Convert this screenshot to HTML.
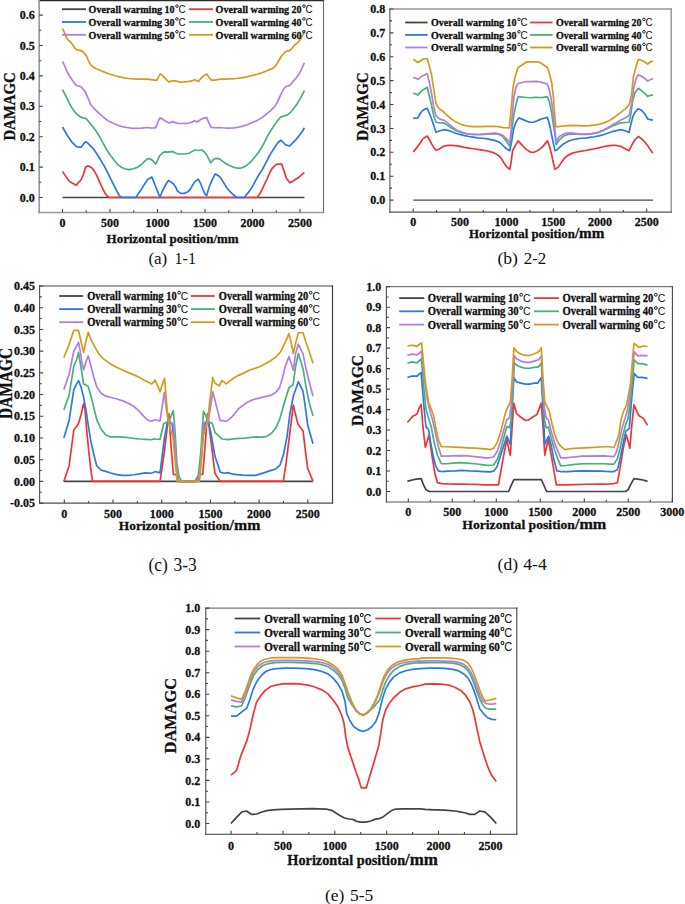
<!DOCTYPE html>
<html><head><meta charset="utf-8"><title>DAMAGC charts</title>
<style>html,body{margin:0;padding:0;background:#fff;}svg{display:block;}text{fill:#111;}text[font-weight=bold]{stroke:#111;stroke-width:0.3px;}</style></head>
<body><svg width="685" height="904" viewBox="0 0 685 904">
<rect width="685" height="904" fill="#fff"/>
<path d="M62.5,197.5 L304.38,197.5" fill="none" stroke="#444444" stroke-width="1.7" stroke-linejoin="round"/>
<path d="M62.5,171.57 L64.61,174.61 L66.96,178.14 L69.29,181.18 L71.64,182.82 L73.99,183.97 L76.33,185.16 L78.67,182.33 L81.02,179.99 L83.36,174.61 L85.7,166.89 L88.05,165.94 L90.39,166.89 L92.74,168.74 L95.08,172.27 L97.42,176.95 L99.77,182.33 L102.11,187.5 L104.45,192.18 L106.8,195.71 L109.15,197.5 L254.69,197.5 L257.03,197.5 L259.38,194.52 L261.72,190.33 L264.06,185.16 L266.87,179.29 L269.92,172.27 L272.27,168.29 L274.61,165.94 L276.95,164.06 L279.3,164.06 L281.64,164.06 L283.98,171.08 L286.33,178.14 L289.84,182.82 L292.19,181.63 L295.71,179.29 L299.22,176.95 L302.74,173.91 L304.38,172.72" fill="none" stroke="#ee3636" stroke-width="1.7" stroke-linejoin="round"/>
<path d="M62.5,127.03 L64.61,130.77 L66.96,134.75 L69.29,138.28 L71.64,141.81 L73.99,144.15 L76.33,146.49 L78.67,147.19 L81.02,147.19 L83.36,144.15 L85.7,141.56 L88.05,143.45 L90.39,145.79 L92.74,148.13 L95.08,151.17 L97.42,154.7 L100.94,160.53 L104.45,166.4 L107.97,173.42 L111.48,180.48 L115,187.5 L117.34,192.18 L119.69,195.95 L122.03,197.5 L126.72,197.5 L133.75,197.5 L136.1,197.5 L138.43,193.37 L140.78,190.33 L143.13,186.34 L145.47,182.82 L147.81,179.29 L150.16,178.14 L151.8,176.95 L153.67,181.63 L156.02,187.5 L158.36,193.37 L160,197.5 L161.88,192.18 L164.22,187.5 L166.56,183.27 L168.43,180.48 L171.25,182.33 L173.59,183.97 L175.94,187.5 L177.35,191.02 L180.86,193.37 L184.38,193.37 L187.89,191.72 L190.24,189.38 L192.57,185.16 L194.92,181.63 L198.44,179.29 L200.78,183.97 L203.13,189.84 L205,194.06 L206.64,195.71 L208.98,187.5 L211.33,181.63 L213.67,176.95 L215.32,173.91 L217.65,175.31 L220,176.95 L223.05,181.63 L226.56,187.5 L230.08,191.72 L233.59,195.01 L237.11,197.5 L240.62,197.5 L244.14,197.5 L247.66,193.37 L251.17,188.68 L254.69,182.33 L258.2,175.79 L261.72,170.63 L265.23,164.06 L268.75,157.04 L272.27,151.17 L275.78,145.79 L278.12,142.51 L280.93,140.17 L283.28,142.51 L285.63,144.85 L289.84,146 L292.19,143.45 L295.71,139.92 L299.22,135.45 L302.74,130.77 L304.38,127.73" fill="none" stroke="#2f78e4" stroke-width="1.7" stroke-linejoin="round"/>
<path d="M62.5,89.52 L64.61,93.74 L66.96,98.43 L69.29,103.14 L71.64,107.33 L73.99,110.86 L76.33,113.66 L78.67,115.54 L81.02,117.18 L83.36,117.88 L85.7,118.37 L88.05,120.71 L90.39,123.75 L92.74,126.58 L96.25,131.26 L99.77,137.1 L103.28,143.45 L106.8,150.02 L110.31,155.15 L113.83,159.83 L117.34,164.06 L120.86,166.89 L124.37,168.74 L129.07,169.68 L133.75,168.74 L137.26,167.34 L140.78,165 L144.3,161.72 L146.64,159.38 L148.99,158.68 L151.32,159.38 L153.67,161.72 L155.54,164.06 L157.19,161.26 L159.53,155.85 L161.88,153.51 L164.22,151.87 L167.73,152.11 L171.25,151.63 L173.59,151.87 L175.94,153.27 L178.29,154 L179.69,154 L184.38,154 L189.06,153.27 L192.57,151.17 L194.92,150.02 L198.44,150.47 L201.95,150.02 L204.3,151.87 L206.64,154.7 L208.98,159.38 L210.62,162.9 L212.5,160.53 L214.84,158.68 L218.36,158.44 L220.7,159.83 L224.22,162.42 L228.9,165.25 L233.59,167.34 L238.28,168.29 L241.79,167.8 L245.31,166.4 L248.82,163.6 L252.35,160.08 L255.86,155.85 L259.38,151.17 L262.89,145.3 L266.41,138.28 L269.92,131.96 L273.44,126.58 L276.95,121.41 L280.47,117.18 L283.98,116.03 L287.5,114.84 L289.84,112.96 L293.36,108.98 L296.87,104.29 L300.39,98.43 L304.38,90.7" fill="none" stroke="#47b276" stroke-width="1.7" stroke-linejoin="round"/>
<path d="M62.5,61.4 L64.61,65.62 L66.96,71.49 L69.29,75.47 L71.64,79.21 L73.99,82.5 L76.33,85.54 L78.67,86.02 L81.02,86.72 L83.36,89.52 L85.7,92.59 L86.88,95.63 L89.21,100.77 L90.39,104.29 L93.91,108.28 L98.59,112.96 L103.28,117.18 L107.97,120.71 L112.66,123.05 L117.34,124.94 L122.03,126.58 L126.72,127.49 L131.4,128.19 L136.1,128.43 L140.78,128.19 L145.47,127.73 L147.81,127.49 L150.16,127.98 L154.84,127.98 L156.48,126.58 L158.36,120.71 L160,117.88 L161.88,118.82 L165.39,120.92 L168.91,123.05 L172.42,121.65 L174.76,122.56 L178.29,123.51 L179.69,123.51 L184.38,123.51 L189.06,123.05 L192.57,121.86 L194.22,120.71 L197.27,121.86 L199.61,120.22 L203.13,118.37 L206.64,117.67 L208.98,123.05 L211.33,127.49 L214.84,127.73 L219.53,127.49 L224.22,127.98 L228.9,128.19 L233.59,127.98 L238.28,127.28 L242.97,126.09 L247.66,124.45 L252.35,122.56 L257.03,120.47 L261.72,117.88 L266.41,114.14 L271.09,110.16 L274.61,106.63 L276.95,103.14 L279.3,97.97 L281.64,92.59 L283.98,88.61 L286.33,86.24 L289.84,85.54 L292.19,82.5 L295.71,78.51 L299.22,73.83 L301.56,69.15 L304.38,62.8" fill="none" stroke="#b47ce6" stroke-width="1.7" stroke-linejoin="round"/>
<path d="M62.5,28.6 L64.61,32.82 L66.96,38.66 L69.29,41 L71.64,43.37 L73.99,46.87 L76.33,49.7 L79.85,50.39 L82.18,51.09 L84.53,53.43 L86.4,55.78 L88.05,59.76 L89.93,63.74 L92.74,66.81 L96.25,68.66 L100.94,70.79 L105.62,72.65 L110.31,74.29 L115,75.72 L119.69,76.87 L124.37,77.82 L129.07,78.51 L133.75,78.97 L138.43,79.21 L143.13,79.21 L147.81,79.21 L151.32,79.7 L154.84,80.16 L156.72,80.4 L158.36,77.33 L160.24,73.83 L161.88,74.99 L164.22,77.33 L166.56,79.7 L168.91,82.04 L171.25,81.1 L173.59,80.61 L175.94,81.1 L178.29,81.55 L179.69,82.04 L184.38,81.8 L189.06,81.34 L192.57,80.61 L194.92,79.7 L198.44,81.55 L200.78,78.51 L204.3,75.47 L206.64,74.08 L208.98,77.33 L211.33,80.16 L214.84,80.16 L219.53,79.21 L224.22,79.21 L228.9,78.97 L233.59,78.76 L238.28,78.27 L242.97,77.57 L247.66,76.63 L252.35,75.47 L257.03,74.29 L261.72,72.89 L266.41,71.01 L271.09,69.15 L274.61,67.02 L276.95,63.74 L279.3,59.76 L281.64,55.78 L285.16,52.04 L287.5,50.85 L289.84,50.64 L292.19,48.05 L294.53,45.23 L296.87,43.37 L299.22,41 L301.56,37.5 L303.44,33.28 L304.38,30.94" fill="none" stroke="#d39c1b" stroke-width="1.7" stroke-linejoin="round"/>
<path d="M39.2,0.6 H323.5" fill="none" stroke="#2a2a2a" stroke-width="1.4" stroke-linecap="square"/>
<path d="M323.5,0.6 V212.5" fill="none" stroke="#6a6a6a" stroke-width="1.1" stroke-linecap="square"/>
<path d="M39.2,0.6 V212.5" fill="none" stroke="#9a9a9a" stroke-width="1.7" stroke-linecap="square"/>
<path d="M39.2,212.5 H323.5" fill="none" stroke="#9a9a9a" stroke-width="1.7" stroke-linecap="square"/>
<path d="M39.2,197.5h3.6 M39.2,167.1h3.6 M39.2,136.7h3.6 M39.2,106.3h3.6 M39.2,75.9h3.6 M39.2,45.5h3.6 M39.2,15.1h3.6 M39.2,182.3h2.2 M39.2,151.9h2.2 M39.2,121.5h2.2 M39.2,91.1h2.2 M39.2,60.7h2.2 M39.2,30.3h2.2 M62.5,212.5v-3.6 M110,212.5v-3.6 M157.5,212.5v-3.6 M205,212.5v-3.6 M252.5,212.5v-3.6 M300,212.5v-3.6 M86.25,212.5v-2.2 M133.75,212.5v-2.2 M181.25,212.5v-2.2 M228.75,212.5v-2.2 M276.25,212.5v-2.2" stroke="#444" stroke-width="1.1" fill="none"/>
<text x="34.7" y="201.6" text-anchor="end" font-family="'Liberation Serif', serif" font-weight="bold" font-size="12.7" textLength="15" lengthAdjust="spacingAndGlyphs">0.0</text>
<text x="34.7" y="171.2" text-anchor="end" font-family="'Liberation Serif', serif" font-weight="bold" font-size="12.7" textLength="15" lengthAdjust="spacingAndGlyphs">0.1</text>
<text x="34.7" y="140.8" text-anchor="end" font-family="'Liberation Serif', serif" font-weight="bold" font-size="12.7" textLength="15" lengthAdjust="spacingAndGlyphs">0.2</text>
<text x="34.7" y="110.4" text-anchor="end" font-family="'Liberation Serif', serif" font-weight="bold" font-size="12.7" textLength="15" lengthAdjust="spacingAndGlyphs">0.3</text>
<text x="34.7" y="80" text-anchor="end" font-family="'Liberation Serif', serif" font-weight="bold" font-size="12.7" textLength="15" lengthAdjust="spacingAndGlyphs">0.4</text>
<text x="34.7" y="49.6" text-anchor="end" font-family="'Liberation Serif', serif" font-weight="bold" font-size="12.7" textLength="15" lengthAdjust="spacingAndGlyphs">0.5</text>
<text x="34.7" y="19.2" text-anchor="end" font-family="'Liberation Serif', serif" font-weight="bold" font-size="12.7" textLength="15" lengthAdjust="spacingAndGlyphs">0.6</text>
<text x="62.5" y="226.8" text-anchor="middle" font-family="'Liberation Serif', serif" font-weight="bold" font-size="12.7" textLength="6" lengthAdjust="spacingAndGlyphs">0</text>
<text x="110" y="226.8" text-anchor="middle" font-family="'Liberation Serif', serif" font-weight="bold" font-size="12.7" textLength="18" lengthAdjust="spacingAndGlyphs">500</text>
<text x="157.5" y="226.8" text-anchor="middle" font-family="'Liberation Serif', serif" font-weight="bold" font-size="12.7" textLength="24" lengthAdjust="spacingAndGlyphs">1000</text>
<text x="205" y="226.8" text-anchor="middle" font-family="'Liberation Serif', serif" font-weight="bold" font-size="12.7" textLength="24" lengthAdjust="spacingAndGlyphs">1500</text>
<text x="252.5" y="226.8" text-anchor="middle" font-family="'Liberation Serif', serif" font-weight="bold" font-size="12.7" textLength="24" lengthAdjust="spacingAndGlyphs">2000</text>
<text x="300" y="226.8" text-anchor="middle" font-family="'Liberation Serif', serif" font-weight="bold" font-size="12.7" textLength="24" lengthAdjust="spacingAndGlyphs">2500</text>
<text transform="translate(14.8,106.4) rotate(-90)" x="0" y="0" text-anchor="middle" font-family="'Liberation Serif', serif" font-weight="bold" font-size="17.5" textLength="68.4" lengthAdjust="spacingAndGlyphs">DAMAGC</text>
<text x="106.6" y="242.6" font-family="'Liberation Serif', serif" font-weight="bold" font-size="13.1" textLength="132.0" lengthAdjust="spacingAndGlyphs">Horizontal position/mm</text>
<text x="148.4" y="263.8" font-family="'Liberation Serif', serif" font-size="17" textLength="18.87" lengthAdjust="spacingAndGlyphs">(a)</text>
<text x="174.5" y="263.8" font-family="'Liberation Serif', serif" font-size="17" textLength="21.53" lengthAdjust="spacingAndGlyphs">1-1</text>
<path d="M62,9.2 h24.0" stroke="#444444" stroke-width="1.8"/>
<text x="88.6" y="12.9" font-family="'Liberation Serif', serif" font-weight="bold" font-size="11" textLength="86.0" lengthAdjust="spacingAndGlyphs">Overall warming 10</text>
<circle cx="176.95" cy="6.1" r="1.3" fill="none" stroke="#111" stroke-width="0.9"/>
<text x="178.6" y="12.9" font-family="'Liberation Sans', sans-serif" font-size="10.7" textLength="7.11" lengthAdjust="spacingAndGlyphs">C</text>
<path d="M189,9.2 h24.0" stroke="#ee3636" stroke-width="1.8"/>
<text x="215.6" y="12.9" font-family="'Liberation Serif', serif" font-weight="bold" font-size="11" textLength="86.0" lengthAdjust="spacingAndGlyphs">Overall warming 20</text>
<circle cx="303.95" cy="6.1" r="1.3" fill="none" stroke="#111" stroke-width="0.9"/>
<text x="305.6" y="12.9" font-family="'Liberation Sans', sans-serif" font-size="10.7" textLength="7.11" lengthAdjust="spacingAndGlyphs">C</text>
<path d="M62,22 h24.0" stroke="#2f78e4" stroke-width="1.8"/>
<text x="88.6" y="25.7" font-family="'Liberation Serif', serif" font-weight="bold" font-size="11" textLength="86.0" lengthAdjust="spacingAndGlyphs">Overall warming 30</text>
<circle cx="176.95" cy="18.9" r="1.3" fill="none" stroke="#111" stroke-width="0.9"/>
<text x="178.6" y="25.7" font-family="'Liberation Sans', sans-serif" font-size="10.7" textLength="7.11" lengthAdjust="spacingAndGlyphs">C</text>
<path d="M189,22 h24.0" stroke="#47b276" stroke-width="1.8"/>
<text x="215.6" y="25.7" font-family="'Liberation Serif', serif" font-weight="bold" font-size="11" textLength="86.0" lengthAdjust="spacingAndGlyphs">Overall warming 40</text>
<circle cx="303.95" cy="18.9" r="1.3" fill="none" stroke="#111" stroke-width="0.9"/>
<text x="305.6" y="25.7" font-family="'Liberation Sans', sans-serif" font-size="10.7" textLength="7.11" lengthAdjust="spacingAndGlyphs">C</text>
<path d="M62,34.8 h24.0" stroke="#b47ce6" stroke-width="1.8"/>
<text x="88.6" y="38.5" font-family="'Liberation Serif', serif" font-weight="bold" font-size="11" textLength="86.0" lengthAdjust="spacingAndGlyphs">Overall warming 50</text>
<circle cx="176.95" cy="31.7" r="1.3" fill="none" stroke="#111" stroke-width="0.9"/>
<text x="178.6" y="38.5" font-family="'Liberation Sans', sans-serif" font-size="10.7" textLength="7.11" lengthAdjust="spacingAndGlyphs">C</text>
<path d="M189,34.8 h24.0" stroke="#d39c1b" stroke-width="1.8"/>
<text x="215.6" y="38.5" font-family="'Liberation Serif', serif" font-weight="bold" font-size="11" textLength="86.0" lengthAdjust="spacingAndGlyphs">Overall warming 60</text>
<circle cx="303.95" cy="31.7" r="1.3" fill="none" stroke="#111" stroke-width="0.9"/>
<text x="305.6" y="38.5" font-family="'Liberation Sans', sans-serif" font-size="10.7" textLength="7.11" lengthAdjust="spacingAndGlyphs">C</text>
<path d="M413.21,200.1 L652.92,200.1" fill="none" stroke="#4a4a4a" stroke-width="1.25" stroke-linejoin="round"/>
<path d="M413.21,152.03 L415.18,149.64 L417.81,146.35 L420.21,143.07 L422.85,138.89 L425.03,137.36 L427.23,136.05 L429.41,139.78 L432.05,144.6 L433.79,147.45 L435.99,150.29 L439.27,148.98 L443.65,146.35 L446.94,145.46 L451.32,145.46 L455.7,145.7 L460.08,146.35 L464.45,147.45 L468.83,148.09 L473.21,148.76 L477.59,149.41 L481.97,150.07 L486.35,150.72 L490.73,151.82 L495.11,153.35 L499.49,156.21 L501.68,159.06 L503.87,162.78 L506.06,166.06 L509.78,169.35 L510.88,163.86 L512.62,150.72 L514.82,146.35 L518.1,140.88 L523.28,146.35 L526.57,149.64 L529.86,151.82 L533.13,152.49 L536.42,151.17 L539.71,149.19 L542.99,146.35 L547.37,140.88 L549.56,146.35 L551.75,155.12 L553.28,162.78 L555.04,169.35 L558.32,167.16 L561.6,162.11 L564.89,157.74 L568.18,155.12 L572.56,153.13 L576.93,152.03 L581.31,151.17 L585.69,150.5 L590.07,149.64 L594.45,148.76 L598.83,147.88 L603.21,146.78 L607.59,145.92 L611.97,145.46 L616.35,145.46 L620.73,146.35 L624.67,148.55 L629.05,150.72 L631.68,145.25 L634.96,139.78 L638.25,136.5 L641.53,138.68 L644.81,141.98 L648.1,146.35 L650.3,149.64 L652.92,153.35" fill="none" stroke="#ee3636" stroke-width="1.7" stroke-linejoin="round"/>
<path d="M413.21,118.32 L415.18,118.11 L417.81,117.89 L420.21,113.5 L422.85,110.23 L425.03,109.13 L427.23,108.24 L429.41,113.5 L431.61,118.97 L433.79,125.54 L435.99,132.32 L439.27,131.01 L443.65,129.7 L446.94,130.15 L451.32,131.46 L455.7,133.21 L460.08,134.52 L464.45,135.62 L468.83,136.5 L473.21,137.15 L477.59,137.82 L481.97,138.25 L486.35,138.68 L490.73,139.56 L495.11,140.66 L499.49,142.19 L502.77,145.25 L506.06,148.55 L509.78,150.72 L511.53,141.98 L513.73,128.84 L515.91,122.27 L518.76,117.89 L523.28,119.64 L526.57,121.17 L529.86,122.27 L533.13,122.27 L536.42,121.17 L539.71,119.64 L542.99,118.54 L547.37,117.44 L549.56,124.46 L551.75,135.41 L553.28,143.07 L555.04,150.72 L557.22,149.64 L560.51,146.35 L563.8,143.72 L568.18,141.31 L572.56,139.78 L576.93,138.89 L581.31,138.25 L585.69,138.03 L590.07,137.36 L594.45,136.72 L598.83,135.84 L603.21,134.74 L607.59,133.21 L611.97,131.68 L616.35,130.58 L620.73,129.7 L624.67,130.58 L629.05,132.56 L630.59,125.54 L632.77,116.8 L634.96,112.4 L638.25,108.7 L641.53,110.23 L644.81,113.95 L647.66,118.97 L650.3,119.64 L652.92,120.07" fill="none" stroke="#2f78e4" stroke-width="1.7" stroke-linejoin="round"/>
<path d="M413.21,93.36 L415.18,93.79 L417.81,95.1 L420.21,92.26 L422.85,89.85 L425.03,88.75 L427.23,87.22 L429.41,95.99 L431.61,105.83 L433.79,115.7 L435.99,122.27 L439.27,122.7 L443.65,122.91 L446.94,124.89 L451.32,127.74 L455.7,130.58 L460.08,132.32 L464.45,133.42 L468.83,134.09 L473.21,134.31 L477.59,134.52 L481.97,134.31 L486.35,134.09 L490.73,133.88 L495.11,133.64 L499.49,134.52 L502.77,136.5 L506.06,140.88 L508.24,144.15 L509.78,146.35 L511.53,133.21 L513.73,115.7 L515.91,104.76 L518.1,96.63 L526.57,97.52 L530.95,97.73 L535.33,97.3 L539.71,97.52 L542.99,97.3 L547.37,96.63 L549.56,102.56 L551.75,113.5 L553.28,124.46 L555.04,135.41 L556.13,144.6 L559.42,139.78 L563.8,135.84 L568.18,134.52 L572.56,134.09 L576.93,134.09 L581.31,134.31 L585.69,134.31 L590.07,134.09 L594.45,133.42 L598.83,132.32 L603.21,130.58 L607.59,128.38 L611.97,126.21 L616.35,124.46 L620.73,122.91 L625.11,122.48 L629.05,122.27 L630.59,115.7 L632.77,100.36 L634.96,92.69 L638.25,88.32 L641.53,90.52 L644.81,93.36 L647.66,96.42 L650.3,95.32 L652.92,94.89" fill="none" stroke="#47b276" stroke-width="1.7" stroke-linejoin="round"/>
<path d="M413.21,77.38 L415.18,78.02 L417.81,79.34 L420.21,77.38 L422.85,75.85 L425.03,74.75 L427.23,73.65 L429.41,82.85 L431.61,93.79 L433.79,106.93 L435.99,115.7 L438.18,117.89 L441.46,119.64 L444.74,120.52 L448.03,123.37 L452.41,127.09 L456.79,129.94 L461.17,131.68 L465.55,133.21 L469.93,134.09 L474.3,134.52 L478.68,134.52 L483.06,134.31 L487.44,133.88 L491.82,133.42 L496.2,133.21 L499.49,134.09 L502.77,135.41 L506.06,138.25 L508.24,140.88 L509.78,143.07 L510.88,133.21 L512.19,115.7 L513.73,98.19 L515.91,87.22 L518.1,83.49 L526.57,81.53 L530.95,81.53 L535.33,81.32 L539.71,81.75 L542.99,82.85 L547.37,83.95 L549.56,90.52 L551.75,102.56 L553.28,115.7 L555.04,131.01 L556.13,141.52 L559.42,136.5 L563.8,133.88 L568.18,132.78 L572.56,133.21 L576.93,133.64 L581.31,134.09 L585.69,134.09 L590.07,133.88 L594.45,133.21 L598.83,132.11 L603.21,130.15 L607.59,127.74 L611.97,125.11 L616.35,122.7 L620.73,120.07 L624.01,118.54 L627.3,116.8 L629.49,114.6 L631.68,102.56 L633.87,87.22 L636.06,78.48 L638.25,74.75 L641.53,76.28 L644.81,78.48 L647.66,81.1 L650.3,79.79 L652.92,78.48" fill="none" stroke="#b47ce6" stroke-width="1.7" stroke-linejoin="round"/>
<path d="M413.21,59.2 L415.18,60.51 L417.81,62.49 L420.21,60.94 L422.85,59.2 L425.03,58.77 L427.23,58.77 L429.41,66.41 L431.61,75.18 L433.79,89.42 L435.99,103.66 L438.18,107.38 L440.36,109.56 L443.65,111.97 L446.94,115.27 L451.32,118.97 L455.7,121.84 L460.08,124.01 L464.45,125.32 L468.83,126.21 L473.21,126.64 L477.59,126.64 L481.97,126.64 L486.35,126.42 L490.73,126.42 L495.11,126.42 L498.39,126.64 L501.68,127.31 L504.97,127.74 L509.35,127.95 L510,120.07 L511.53,104.76 L513.06,87.22 L515.26,76.28 L518.1,67.51 L526.57,62.04 L530.95,61.82 L535.33,61.82 L539.71,62.25 L542.99,64.45 L547.37,67.51 L549.56,74.08 L551.75,82.85 L553.28,95.99 L554.6,113.5 L555.69,126.64 L558.32,126.64 L562.71,125.99 L567.08,125.54 L572.56,125.32 L578.03,125.54 L583.51,125.78 L588.98,125.54 L594.45,125.11 L598.83,124.46 L603.21,123.15 L607.59,121.38 L611.97,118.97 L616.35,115.7 L620.73,112.4 L625.11,109.13 L628.39,105.83 L629.49,103.66 L631.68,93.79 L633.43,76.28 L636.06,66.41 L638.25,59.41 L641.53,60.3 L644.81,62.04 L647.66,64.02 L650.3,62.04 L652.92,60.94" fill="none" stroke="#d39c1b" stroke-width="1.7" stroke-linejoin="round"/>
<path d="M389.9,9 H671.2" fill="none" stroke="#999" stroke-width="1.5" stroke-linecap="square"/>
<path d="M671.2,9 V212.1" fill="none" stroke="#999" stroke-width="1.5" stroke-linecap="square"/>
<path d="M389.9,9 V212.1" fill="none" stroke="#555" stroke-width="1.1" stroke-linecap="square"/>
<path d="M389.9,212.1 H671.2" fill="none" stroke="#555" stroke-width="1.2" stroke-linecap="square"/>
<path d="M389.9,200.1h3.6 M389.9,176.21h3.6 M389.9,152.32h3.6 M389.9,128.43h3.6 M389.9,104.54h3.6 M389.9,80.65h3.6 M389.9,56.76h3.6 M389.9,32.87h3.6 M389.9,8.98h3.6 M389.9,188.16h2.2 M389.9,164.26h2.2 M389.9,140.38h2.2 M389.9,116.48h2.2 M389.9,92.59h2.2 M389.9,68.7h2.2 M389.9,44.81h2.2 M389.9,20.92h2.2 M413.2,212.1v-3.6 M459.9,212.1v-3.6 M506.6,212.1v-3.6 M553.3,212.1v-3.6 M600,212.1v-3.6 M646.7,212.1v-3.6 M436.55,212.1v-2.2 M483.25,212.1v-2.2 M529.95,212.1v-2.2 M576.65,212.1v-2.2 M623.35,212.1v-2.2" stroke="#444" stroke-width="1.1" fill="none"/>
<text x="385.3" y="204.2" text-anchor="end" font-family="'Liberation Serif', serif" font-weight="bold" font-size="12.7" textLength="15" lengthAdjust="spacingAndGlyphs">0.0</text>
<text x="385.3" y="180.31" text-anchor="end" font-family="'Liberation Serif', serif" font-weight="bold" font-size="12.7" textLength="15" lengthAdjust="spacingAndGlyphs">0.1</text>
<text x="385.3" y="156.42" text-anchor="end" font-family="'Liberation Serif', serif" font-weight="bold" font-size="12.7" textLength="15" lengthAdjust="spacingAndGlyphs">0.2</text>
<text x="385.3" y="132.53" text-anchor="end" font-family="'Liberation Serif', serif" font-weight="bold" font-size="12.7" textLength="15" lengthAdjust="spacingAndGlyphs">0.3</text>
<text x="385.3" y="108.64" text-anchor="end" font-family="'Liberation Serif', serif" font-weight="bold" font-size="12.7" textLength="15" lengthAdjust="spacingAndGlyphs">0.4</text>
<text x="385.3" y="84.75" text-anchor="end" font-family="'Liberation Serif', serif" font-weight="bold" font-size="12.7" textLength="15" lengthAdjust="spacingAndGlyphs">0.5</text>
<text x="385.3" y="60.86" text-anchor="end" font-family="'Liberation Serif', serif" font-weight="bold" font-size="12.7" textLength="15" lengthAdjust="spacingAndGlyphs">0.6</text>
<text x="385.3" y="36.97" text-anchor="end" font-family="'Liberation Serif', serif" font-weight="bold" font-size="12.7" textLength="15" lengthAdjust="spacingAndGlyphs">0.7</text>
<text x="385.3" y="13.08" text-anchor="end" font-family="'Liberation Serif', serif" font-weight="bold" font-size="12.7" textLength="15" lengthAdjust="spacingAndGlyphs">0.8</text>
<text x="413.2" y="225.7" text-anchor="middle" font-family="'Liberation Serif', serif" font-weight="bold" font-size="12.7" textLength="6" lengthAdjust="spacingAndGlyphs">0</text>
<text x="459.9" y="225.7" text-anchor="middle" font-family="'Liberation Serif', serif" font-weight="bold" font-size="12.7" textLength="18" lengthAdjust="spacingAndGlyphs">500</text>
<text x="506.6" y="225.7" text-anchor="middle" font-family="'Liberation Serif', serif" font-weight="bold" font-size="12.7" textLength="24" lengthAdjust="spacingAndGlyphs">1000</text>
<text x="553.3" y="225.7" text-anchor="middle" font-family="'Liberation Serif', serif" font-weight="bold" font-size="12.7" textLength="24" lengthAdjust="spacingAndGlyphs">1500</text>
<text x="600" y="225.7" text-anchor="middle" font-family="'Liberation Serif', serif" font-weight="bold" font-size="12.7" textLength="24" lengthAdjust="spacingAndGlyphs">2000</text>
<text x="646.7" y="225.7" text-anchor="middle" font-family="'Liberation Serif', serif" font-weight="bold" font-size="12.7" textLength="24" lengthAdjust="spacingAndGlyphs">2500</text>
<text transform="translate(367.9,106.6) rotate(-90)" x="0" y="0" text-anchor="middle" font-family="'Liberation Serif', serif" font-weight="bold" font-size="16.2" textLength="68.5" lengthAdjust="spacingAndGlyphs">DAMAGC</text>
<text x="469.1" y="238.1" font-family="'Liberation Serif', serif" font-weight="bold" font-size="13.3" textLength="105.8" lengthAdjust="spacingAndGlyphs">Horizontal position</text>
<text x="574.9" y="238.1" font-family="'Liberation Serif', serif" font-weight="bold" font-size="14.8" textLength="29.6" lengthAdjust="spacingAndGlyphs">/mm</text>
<text x="497.4" y="263.9" font-family="'Liberation Serif', serif" font-size="17" textLength="20.61" lengthAdjust="spacingAndGlyphs">(b)</text>
<text x="523.7" y="263.9" font-family="'Liberation Serif', serif" font-size="17" textLength="22.66" lengthAdjust="spacingAndGlyphs">2-2</text>
<path d="M405.1,22.5 h22.5" stroke="#444444" stroke-width="1.8"/>
<text x="431.1" y="26.2" font-family="'Liberation Serif', serif" font-weight="bold" font-size="11" textLength="85.5" lengthAdjust="spacingAndGlyphs">Overall warming 10</text>
<circle cx="518.95" cy="19.4" r="1.3" fill="none" stroke="#111" stroke-width="0.9"/>
<text x="520.6" y="26.2" font-family="'Liberation Sans', sans-serif" font-size="10.7" textLength="7.11" lengthAdjust="spacingAndGlyphs">C</text>
<path d="M530.1,22.5 h22.5" stroke="#ee3636" stroke-width="1.8"/>
<text x="556.1" y="26.2" font-family="'Liberation Serif', serif" font-weight="bold" font-size="11" textLength="85.5" lengthAdjust="spacingAndGlyphs">Overall warming 20</text>
<circle cx="643.95" cy="19.4" r="1.3" fill="none" stroke="#111" stroke-width="0.9"/>
<text x="645.6" y="26.2" font-family="'Liberation Sans', sans-serif" font-size="10.7" textLength="7.11" lengthAdjust="spacingAndGlyphs">C</text>
<path d="M405.1,34.9 h22.5" stroke="#2f78e4" stroke-width="1.8"/>
<text x="431.1" y="38.6" font-family="'Liberation Serif', serif" font-weight="bold" font-size="11" textLength="85.5" lengthAdjust="spacingAndGlyphs">Overall warming 30</text>
<circle cx="518.95" cy="31.8" r="1.3" fill="none" stroke="#111" stroke-width="0.9"/>
<text x="520.6" y="38.6" font-family="'Liberation Sans', sans-serif" font-size="10.7" textLength="7.11" lengthAdjust="spacingAndGlyphs">C</text>
<path d="M530.1,34.9 h22.5" stroke="#47b276" stroke-width="1.8"/>
<text x="556.1" y="38.6" font-family="'Liberation Serif', serif" font-weight="bold" font-size="11" textLength="85.5" lengthAdjust="spacingAndGlyphs">Overall warming 40</text>
<circle cx="643.95" cy="31.8" r="1.3" fill="none" stroke="#111" stroke-width="0.9"/>
<text x="645.6" y="38.6" font-family="'Liberation Sans', sans-serif" font-size="10.7" textLength="7.11" lengthAdjust="spacingAndGlyphs">C</text>
<path d="M405.1,47.5 h22.5" stroke="#b47ce6" stroke-width="1.8"/>
<text x="431.1" y="51.2" font-family="'Liberation Serif', serif" font-weight="bold" font-size="11" textLength="85.5" lengthAdjust="spacingAndGlyphs">Overall warming 50</text>
<circle cx="518.95" cy="44.4" r="1.3" fill="none" stroke="#111" stroke-width="0.9"/>
<text x="520.6" y="51.2" font-family="'Liberation Sans', sans-serif" font-size="10.7" textLength="7.11" lengthAdjust="spacingAndGlyphs">C</text>
<path d="M530.1,47.5 h22.5" stroke="#d39c1b" stroke-width="1.8"/>
<text x="556.1" y="51.2" font-family="'Liberation Serif', serif" font-weight="bold" font-size="11" textLength="85.5" lengthAdjust="spacingAndGlyphs">Overall warming 60</text>
<circle cx="643.95" cy="44.4" r="1.3" fill="none" stroke="#111" stroke-width="0.9"/>
<text x="645.6" y="51.2" font-family="'Liberation Sans', sans-serif" font-size="10.7" textLength="7.11" lengthAdjust="spacingAndGlyphs">C</text>
<path d="M63.84,481.4 L313,481.4" fill="none" stroke="#444444" stroke-width="1.7" stroke-linejoin="round"/>
<path d="M63.84,481.4 L69.1,465.73 L73.81,429.99 L76.62,426.26 L78.5,423.43 L80.95,414.97 L83.59,403.68 L85.09,410.28 L86.96,432.81 L88.84,451.61 L90.72,468.55 L92.6,481.4 L154.66,481.4 L155,481.4 L160.04,481.4 L164.29,452.31 L166.95,429.73 L168.94,413.8 L170.93,444.32 L173.32,474.19 L176.24,474.89 L177.83,481.4 L194.83,481.4 L198.81,474.89 L202.78,474.19 L205.18,444.32 L207.43,413.8 L211.41,444.32 L215,473.54 L220.22,481.4 L255,481.4 L283.29,481.4 L286.11,462.9 L288.93,440.32 L293.26,404.98 L297.95,424.35 L303.04,430.95 L305.48,451.61 L307.73,468.55 L313,481.4" fill="none" stroke="#ee3636" stroke-width="1.7" stroke-linejoin="round"/>
<path d="M63.84,438.07 L69.1,420.61 L73.81,389.57 L76.62,383.92 L78.5,380.54 L80.95,386.74 L83.59,397.08 L86.03,410.28 L88.28,425.3 L90.72,440.32 L93.55,453.52 L96.74,465.73 L101.07,470.07 L105.77,471.37 L111.41,473.24 L117.05,474.58 L122.69,475.32 L128.33,475.32 L133.97,474.76 L139.62,473.8 L145.26,472.89 L150.9,473.24 L154.66,471.93 L155,471.54 L160.04,472.89 L164.29,439.02 L167.61,421.78 L169.6,421.09 L172.26,424.43 L174.64,447.01 L176.9,474.89 L178.89,481.4 L196.81,481.4 L199.47,473.54 L201.46,456.3 L203.46,433.72 L205.44,422.44 L208.1,421.09 L210.75,432.38 L215,456.3 L220.22,471.93 L223.98,473.24 L227.74,472.67 L231.5,473.8 L237.14,474.58 L242.78,475.15 L248.42,475.32 L255,475.32 L257.9,474.58 L264.49,472.67 L271.07,470.41 L275.77,468.94 L279.9,465.16 L283.29,455.39 L287.05,436.59 L289.87,414.01 L293.07,397.08 L298.33,381.66 L303.04,391.43 L305.48,408.37 L307.73,425.3 L313,443.71" fill="none" stroke="#2f78e4" stroke-width="1.7" stroke-linejoin="round"/>
<path d="M63.84,409.89 L69.1,395.21 L73.81,366.08 L76.62,359.48 L78.5,352.36 L80.95,366.99 L83.59,383.92 L86.03,384.88 L88.28,386.74 L90.72,395.21 L93.55,406.5 L96.74,419.66 L101.07,429.08 L105.77,435.07 L110.47,436.94 L117.05,436.94 L122.69,437.16 L128.33,437.72 L133.97,438.46 L139.62,439.02 L145.26,439.41 L150.9,439.76 L154.66,438.85 L155,439.02 L160.04,439.28 L163.63,423.78 L166.29,422.44 L168.94,421.09 L170.93,416.44 L173.32,410.5 L174.91,429.73 L176.9,462.9 L178.89,476.19 L181.55,481.4 L194.83,481.4 L198.14,477.54 L200.8,452.31 L203.46,411.15 L206.1,416.44 L209.43,422.44 L212.08,423.09 L215,432.38 L222.1,439.02 L227.74,439.59 L233.38,438.85 L239.02,438.46 L244.66,438.07 L250.3,437.5 L255,436.94 L260.73,437.16 L266.37,436.59 L271.07,433.77 L275.77,428.12 L279.53,419.66 L283.29,406.5 L286.11,397.08 L288.93,387.7 L293.07,384.88 L295.51,366.99 L298.33,353.48 L303.04,368.9 L305.85,385.83 L309.24,402.72 L313,415.88" fill="none" stroke="#47b276" stroke-width="1.7" stroke-linejoin="round"/>
<path d="M63.84,389.57 L69.1,374.54 L73.81,351.01 L76.62,346.32 L78.5,342.2 L80.38,351.96 L81.71,361.39 L83.59,369.81 L86.03,361.39 L88.28,355.74 L90.72,365.12 L93.55,376.41 L96.74,386.74 L101.07,393.34 L105.77,396.17 L111.41,397.47 L117.05,398.99 L122.69,400.86 L128.33,403.29 L133.97,406.5 L138.67,410.63 L143.38,415.88 L147.14,419.66 L150.9,421.18 L154.66,420.05 L155,419.79 L160.04,420.83 L164.29,392.3 L166.29,408.5 L168.27,421.09 L170.26,422.44 L172.26,423.09 L173.58,425.74 L175.58,452.31 L177.57,478.84 L179.55,481.4 L197.48,481.4 L200.13,473.54 L202.12,444.32 L203.84,422.44 L206.1,422.04 L208.1,422.44 L210.49,407.15 L212.75,391.91 L215,400.55 L220.22,420.61 L223.03,420.61 L225.86,421.52 L228.67,419.66 L231.5,417.4 L235.26,413.06 L239.02,408.37 L242.78,405.55 L246.54,402.72 L250.3,400.86 L255,398.99 L256.97,398.6 L262.61,397.08 L267.31,396.17 L272.01,394.82 L275.77,392.39 L279.53,387.7 L282.35,378.28 L285.17,366.99 L288.93,356.65 L291.18,363.25 L293.26,370.38 L295.51,353.83 L298.33,344.06 L303.04,353.83 L305.85,367.94 L309.24,382.06 L313,396.17" fill="none" stroke="#b47ce6" stroke-width="1.7" stroke-linejoin="round"/>
<path d="M63.84,357.61 L69.1,344.45 L73.81,330.34 L78.5,330.34 L80.95,340.68 L83.59,352.36 L86.03,340.68 L88.28,332.21 L90.72,338.81 L94.48,346.32 L98.24,352.92 L102.01,357.61 L106.71,361.39 L111.41,364.56 L117.05,367.55 L122.69,370.03 L128.33,372.63 L133.97,374.89 L139.62,377.54 L144.31,380.19 L149.02,382.45 L151.83,383.92 L154.66,381.1 L155,379.97 L157.66,385.92 L160.04,391.91 L162.3,384.62 L164.55,378.23 L166.29,399.21 L168.27,421.78 L170.66,429.73 L172.92,436.37 L174.91,457.61 L177.3,481.4 L181.55,481.4 L188.18,481.4 L194.83,481.4 L199.47,481.4 L201.46,460.25 L203.06,436.37 L205.44,429.08 L207.43,421.78 L210.09,399.21 L212.75,377.71 L215,383.27 L219.27,385.83 L221.72,380.54 L223.98,382.06 L226.23,383.92 L229.62,381.1 L233.38,378.28 L239.02,375.11 L244.66,372.63 L250.3,369.81 L255,368.33 L258.85,366.99 L264.49,364.21 L270.13,361 L275.77,357.22 L280.47,351.96 L284.79,343.5 L288.93,333.55 L291.18,342.54 L293.26,353.48 L296.07,341.63 L298.33,332.77 L303.04,332.77 L305.48,340.68 L308.68,350.1 L313,363.25" fill="none" stroke="#d39c1b" stroke-width="1.7" stroke-linejoin="round"/>
<path d="M39.6,286 H332.5" fill="none" stroke="#444" stroke-width="1.2" stroke-linecap="square"/>
<path d="M332.5,286 V503.1" fill="none" stroke="#444" stroke-width="1.2" stroke-linecap="square"/>
<path d="M39.6,286 V503.1" fill="none" stroke="#505050" stroke-width="1.1" stroke-linecap="square"/>
<path d="M39.6,503.1 H332.5" fill="none" stroke="#505050" stroke-width="1.2" stroke-linecap="square"/>
<path d="M39.6,503.11h3.6 M39.6,481.4h3.6 M39.6,459.69h3.6 M39.6,437.98h3.6 M39.6,416.27h3.6 M39.6,394.56h3.6 M39.6,372.85h3.6 M39.6,351.14h3.6 M39.6,329.43h3.6 M39.6,307.72h3.6 M39.6,286.01h3.6 M39.6,492.25h2.2 M39.6,470.54h2.2 M39.6,448.83h2.2 M39.6,427.12h2.2 M39.6,405.41h2.2 M39.6,383.7h2.2 M39.6,362h2.2 M39.6,340.28h2.2 M39.6,318.57h2.2 M39.6,296.87h2.2 M64.3,503.1v-3.6 M113,503.1v-3.6 M161.7,503.1v-3.6 M210.4,503.1v-3.6 M259.1,503.1v-3.6 M307.8,503.1v-3.6 M88.65,503.1v-2.2 M137.35,503.1v-2.2 M186.05,503.1v-2.2 M234.75,503.1v-2.2 M283.45,503.1v-2.2" stroke="#444" stroke-width="1.1" fill="none"/>
<text x="35" y="507.21" text-anchor="end" font-family="'Liberation Serif', serif" font-weight="bold" font-size="12.7" textLength="25" lengthAdjust="spacingAndGlyphs">-0.05</text>
<text x="35" y="485.5" text-anchor="end" font-family="'Liberation Serif', serif" font-weight="bold" font-size="12.7" textLength="21" lengthAdjust="spacingAndGlyphs">0.00</text>
<text x="35" y="463.79" text-anchor="end" font-family="'Liberation Serif', serif" font-weight="bold" font-size="12.7" textLength="21" lengthAdjust="spacingAndGlyphs">0.05</text>
<text x="35" y="442.08" text-anchor="end" font-family="'Liberation Serif', serif" font-weight="bold" font-size="12.7" textLength="21" lengthAdjust="spacingAndGlyphs">0.10</text>
<text x="35" y="420.37" text-anchor="end" font-family="'Liberation Serif', serif" font-weight="bold" font-size="12.7" textLength="21" lengthAdjust="spacingAndGlyphs">0.15</text>
<text x="35" y="398.66" text-anchor="end" font-family="'Liberation Serif', serif" font-weight="bold" font-size="12.7" textLength="21" lengthAdjust="spacingAndGlyphs">0.20</text>
<text x="35" y="376.95" text-anchor="end" font-family="'Liberation Serif', serif" font-weight="bold" font-size="12.7" textLength="21" lengthAdjust="spacingAndGlyphs">0.25</text>
<text x="35" y="355.24" text-anchor="end" font-family="'Liberation Serif', serif" font-weight="bold" font-size="12.7" textLength="21" lengthAdjust="spacingAndGlyphs">0.30</text>
<text x="35" y="333.53" text-anchor="end" font-family="'Liberation Serif', serif" font-weight="bold" font-size="12.7" textLength="21" lengthAdjust="spacingAndGlyphs">0.35</text>
<text x="35" y="311.82" text-anchor="end" font-family="'Liberation Serif', serif" font-weight="bold" font-size="12.7" textLength="21" lengthAdjust="spacingAndGlyphs">0.40</text>
<text x="35" y="290.11" text-anchor="end" font-family="'Liberation Serif', serif" font-weight="bold" font-size="12.7" textLength="21" lengthAdjust="spacingAndGlyphs">0.45</text>
<text x="64.3" y="517.5" text-anchor="middle" font-family="'Liberation Serif', serif" font-weight="bold" font-size="12.7" textLength="6" lengthAdjust="spacingAndGlyphs">0</text>
<text x="113" y="517.5" text-anchor="middle" font-family="'Liberation Serif', serif" font-weight="bold" font-size="12.7" textLength="18" lengthAdjust="spacingAndGlyphs">500</text>
<text x="161.7" y="517.5" text-anchor="middle" font-family="'Liberation Serif', serif" font-weight="bold" font-size="12.7" textLength="24" lengthAdjust="spacingAndGlyphs">1000</text>
<text x="210.4" y="517.5" text-anchor="middle" font-family="'Liberation Serif', serif" font-weight="bold" font-size="12.7" textLength="24" lengthAdjust="spacingAndGlyphs">1500</text>
<text x="259.1" y="517.5" text-anchor="middle" font-family="'Liberation Serif', serif" font-weight="bold" font-size="12.7" textLength="24" lengthAdjust="spacingAndGlyphs">2000</text>
<text x="307.8" y="517.5" text-anchor="middle" font-family="'Liberation Serif', serif" font-weight="bold" font-size="12.7" textLength="24" lengthAdjust="spacingAndGlyphs">2500</text>
<text transform="translate(12.2,383.4) rotate(-90)" x="0" y="0" text-anchor="middle" font-family="'Liberation Serif', serif" font-weight="bold" font-size="18" textLength="71.0" lengthAdjust="spacingAndGlyphs">DAMAGC</text>
<text x="118.8" y="529.9" font-family="'Liberation Serif', serif" font-weight="bold" font-size="13.3" textLength="110.8" lengthAdjust="spacingAndGlyphs">Horizontal position</text>
<text x="229.6" y="529.9" font-family="'Liberation Serif', serif" font-weight="bold" font-size="15.0" textLength="30.8" lengthAdjust="spacingAndGlyphs">/mm</text>
<text x="148.4" y="571" font-family="'Liberation Serif', serif" font-size="19.08" textLength="19.43" lengthAdjust="spacingAndGlyphs">(c)</text>
<text x="173.5" y="571" font-family="'Liberation Serif', serif" font-size="19.08" textLength="23.33" lengthAdjust="spacingAndGlyphs">3-3</text>
<path d="M59.2,296 h24.0" stroke="#444444" stroke-width="1.8"/>
<text x="87.2" y="299.88" font-family="'Liberation Serif', serif" font-weight="bold" font-size="11.55" textLength="89.5" lengthAdjust="spacingAndGlyphs">Overall warming 10</text>
<circle cx="179.14" cy="292.75" r="1.36" fill="none" stroke="#111" stroke-width="0.94"/>
<text x="180.87" y="299.88" font-family="'Liberation Sans', sans-serif" font-size="11.24" textLength="7.46" lengthAdjust="spacingAndGlyphs">C</text>
<path d="M190.8,296 h24.0" stroke="#ee3636" stroke-width="1.8"/>
<text x="218.8" y="299.88" font-family="'Liberation Serif', serif" font-weight="bold" font-size="11.55" textLength="89.5" lengthAdjust="spacingAndGlyphs">Overall warming 20</text>
<circle cx="310.74" cy="292.75" r="1.36" fill="none" stroke="#111" stroke-width="0.94"/>
<text x="312.47" y="299.88" font-family="'Liberation Sans', sans-serif" font-size="11.24" textLength="7.46" lengthAdjust="spacingAndGlyphs">C</text>
<path d="M59.2,309.1 h24.0" stroke="#2f78e4" stroke-width="1.8"/>
<text x="87.2" y="312.99" font-family="'Liberation Serif', serif" font-weight="bold" font-size="11.55" textLength="89.5" lengthAdjust="spacingAndGlyphs">Overall warming 30</text>
<circle cx="179.14" cy="305.85" r="1.36" fill="none" stroke="#111" stroke-width="0.94"/>
<text x="180.87" y="312.99" font-family="'Liberation Sans', sans-serif" font-size="11.24" textLength="7.46" lengthAdjust="spacingAndGlyphs">C</text>
<path d="M190.8,309.1 h24.0" stroke="#47b276" stroke-width="1.8"/>
<text x="218.8" y="312.99" font-family="'Liberation Serif', serif" font-weight="bold" font-size="11.55" textLength="89.5" lengthAdjust="spacingAndGlyphs">Overall warming 40</text>
<circle cx="310.74" cy="305.85" r="1.36" fill="none" stroke="#111" stroke-width="0.94"/>
<text x="312.47" y="312.99" font-family="'Liberation Sans', sans-serif" font-size="11.24" textLength="7.46" lengthAdjust="spacingAndGlyphs">C</text>
<path d="M59.2,322.2 h24.0" stroke="#b47ce6" stroke-width="1.8"/>
<text x="87.2" y="326.08" font-family="'Liberation Serif', serif" font-weight="bold" font-size="11.55" textLength="89.5" lengthAdjust="spacingAndGlyphs">Overall warming 50</text>
<circle cx="179.14" cy="318.94" r="1.36" fill="none" stroke="#111" stroke-width="0.94"/>
<text x="180.87" y="326.08" font-family="'Liberation Sans', sans-serif" font-size="11.24" textLength="7.46" lengthAdjust="spacingAndGlyphs">C</text>
<path d="M190.8,322.2 h24.0" stroke="#d39c1b" stroke-width="1.8"/>
<text x="218.8" y="326.08" font-family="'Liberation Serif', serif" font-weight="bold" font-size="11.55" textLength="89.5" lengthAdjust="spacingAndGlyphs">Overall warming 60</text>
<circle cx="310.74" cy="318.94" r="1.36" fill="none" stroke="#111" stroke-width="0.94"/>
<text x="312.47" y="326.08" font-family="'Liberation Sans', sans-serif" font-size="11.24" textLength="7.46" lengthAdjust="spacingAndGlyphs">C</text>
<path d="M407.38,481.42 L411.8,480.01 L416.22,479.13 L421.17,478.6 L423.3,484.43 L425.95,489.74 L429.48,491.5 L490.5,491.5 L505.92,491.5 L508.57,491.5 L511.22,485.32 L513.87,479.66 L518.3,479.66 L525.37,479.66 L532.44,479.66 L541.29,479.66 L543.94,485.32 L546.59,491.5 L550.13,491.5 L585.5,491.5 L625.43,491.5 L628.09,489.74 L630.74,484.43 L633.92,478.6 L637.81,479.13 L643.12,480.01 L647.54,481.42" fill="none" stroke="#444444" stroke-width="1.7" stroke-linejoin="round"/>
<path d="M407.38,422.54 L410.03,419.53 L412.68,416.36 L415.34,414.95 L417.11,413.7 L419.41,407.51 L421.17,404.32 L422.94,426.97 L424.18,437.58 L425.42,447.3 L427.18,441.12 L428.95,434.91 L430.37,444.64 L432.49,458.79 L434.79,472.95 L437.45,482.67 L441.34,483.55 L448.06,483.9 L455.12,484.09 L462.2,484.09 L469.28,484.27 L476.35,484.43 L483.43,484.78 L490.5,484.78 L494.43,484.97 L498.49,484.97 L502.38,462.34 L506.8,439.34 L508.57,448.18 L510.34,455.25 L512.1,426.97 L513.87,403.09 L516.53,413.7 L520.95,417.24 L525.37,420.25 L528.02,420.25 L532.44,417.24 L536.87,414.58 L541.29,403.09 L543.05,426.97 L544.82,455.25 L546.24,448.18 L548.36,439.34 L551.9,458.79 L556.32,484.97 L564.28,484.97 L574.88,484.62 L585.5,484.27 L602.45,484.09 L609.52,483.9 L613.94,483.55 L617.48,482.67 L620.12,467.64 L623.31,448.18 L626.32,434.91 L628.09,441.12 L629.86,448.18 L631.63,426.97 L633.92,404.85 L638.7,415.46 L643.12,418.12 L647.54,425.19" fill="none" stroke="#ee3636" stroke-width="1.7" stroke-linejoin="round"/>
<path d="M407.38,377.45 L411.8,376.03 L414.45,376.03 L417.11,376.03 L419.41,373.9 L421.17,372.49 L422.42,388.06 L424.18,409.27 L425.95,426.97 L428.6,429.61 L430.37,441.12 L433.02,455.25 L435.68,465.86 L438.33,470.82 L441.34,471.53 L448.06,471.18 L455.12,470.82 L462.2,470.28 L469.28,470.82 L476.35,471.18 L483.43,471.53 L490.5,471.88 L493.54,471.18 L497.07,466.76 L500.61,455.25 L504.15,444.64 L506.8,436.16 L508.57,440.22 L510.34,444.29 L512.1,409.27 L513.87,377.45 L516.53,381.87 L520.95,383.1 L525.37,384.16 L529.79,384.16 L534.21,383.1 L537.75,383.1 L541.29,377.45 L543.05,409.27 L544.82,444.29 L546.59,440.22 L548.71,436.16 L551.01,444.64 L553.67,458.79 L556.85,470.82 L560.74,471.53 L567.82,471.53 L574.88,471.18 L581.96,470.82 L602.45,471.18 L609.52,471.53 L613.94,471.53 L617.48,469.4 L620.12,458.79 L623.31,442.88 L625.79,431.39 L629.32,428.38 L631.09,405.73 L632.86,386.29 L634.28,373.56 L637.81,377.45 L642.23,377.45 L647.54,378.33" fill="none" stroke="#2f78e4" stroke-width="1.7" stroke-linejoin="round"/>
<path d="M407.38,363.3 L411.8,361.88 L414.45,362.41 L417.11,362.95 L419.41,360.65 L421.17,358.87 L422.42,370.36 L424.18,391.6 L425.95,409.27 L428.6,418.12 L431.25,426.97 L433.91,441.12 L437.45,455.25 L441.34,463.75 L446.29,463.75 L453.36,463.22 L460.43,462.68 L467.51,463.03 L474.58,463.75 L481.66,464.63 L486.96,465.35 L493.54,464.98 L497.07,459.67 L500.61,449.95 L503.8,437.58 L506.8,426.6 L509.46,427.85 L511.22,419.88 L512.63,393.36 L514.4,362.95 L516.53,365.06 L520.95,367.19 L525.37,368.25 L529.79,368.25 L534.21,367.37 L538.64,366.84 L541.29,362.95 L542.7,393.36 L544.47,419.88 L546.24,427.85 L548.36,426.97 L551.01,437.58 L554.55,449.95 L558.08,459.67 L560.74,465.86 L566.05,465.51 L573.12,464.63 L581.96,463.75 L604.21,463.75 L609.52,464.1 L613.94,464.1 L617.48,458.79 L620.12,448.18 L622.78,435.79 L625.43,425.19 L628.09,418.12 L630.39,402.21 L632.51,379.21 L634.28,359.75 L637.81,363.64 L642.23,363.64 L647.54,365.06" fill="none" stroke="#47b276" stroke-width="1.7" stroke-linejoin="round"/>
<path d="M407.38,355.33 L411.8,354.1 L414.45,354.45 L417.11,354.82 L419.41,353.03 L421.17,351.27 L422.94,363.3 L424.71,380.99 L426.83,396.9 L429.48,409.27 L432.49,419.88 L435.68,434.03 L438.33,446.42 L441.34,456.15 L446.29,456.15 L453.36,455.78 L460.43,455.62 L467.51,455.97 L474.58,456.66 L481.66,457.38 L486.96,458.08 L493.54,457.03 L497.07,451.73 L500.61,441.12 L504.15,428.73 L506.8,419.53 L509.46,418.12 L511.22,405.73 L512.63,382.75 L514.4,355.86 L516.53,358.87 L520.95,361.17 L525.37,362.41 L529.79,362.41 L534.21,361.17 L538.64,359.75 L541.29,355.86 L542.7,382.75 L544.47,409.27 L546.24,418.12 L548.36,419.88 L551.01,430.49 L554.55,442.88 L558.08,451.73 L560.74,457.91 L566.05,457.91 L573.12,457.03 L581.96,456.15 L604.21,455.97 L609.52,456.32 L613.94,456.66 L616.6,451.73 L619.24,441.12 L621.89,428.73 L624.55,419.88 L627.2,411.05 L629.86,395.12 L632.15,370.36 L634.28,351.81 L637.81,355.86 L642.23,355.33 L647.54,355.86" fill="none" stroke="#b47ce6" stroke-width="1.7" stroke-linejoin="round"/>
<path d="M407.38,345.97 L411.8,345.25 L414.45,345.62 L417.11,346.32 L419.41,344.19 L421.53,342.96 L422.94,356.23 L424.18,370.36 L425.95,386.29 L428.6,402.21 L431.25,409.27 L433.56,415.46 L435.68,426.97 L438.33,439.34 L441.34,446.77 L446.29,446.77 L453.36,447.12 L460.43,447.47 L467.51,447.84 L474.58,448.18 L481.66,448.53 L486.96,449.07 L490.5,449.6 L493.54,448.18 L497.07,442.88 L500.61,432.27 L503.26,421.66 L505.92,411.05 L508.57,405.73 L510.34,402.21 L512.1,379.21 L513.87,347.73 L516.17,350.93 L518.3,352.69 L521.83,354.45 L525.37,355.33 L528.9,355.33 L532.44,354.45 L536.87,352.69 L539.52,350.93 L541.29,347.73 L543.05,379.21 L544.82,402.21 L546.59,405.73 L549.24,411.05 L551.9,423.42 L554.55,434.03 L557.2,441.12 L560.74,446.42 L565.16,449.6 L571.35,448.53 L578.42,448.18 L585.5,447.84 L604.21,446.77 L609.52,446.77 L613.94,447.47 L616.6,441.12 L618.72,435.79 L621.01,419.88 L623.66,411.05 L626.32,405.73 L628.09,396.9 L630.39,384.51 L632.15,363.3 L633.92,343.49 L636.04,344.72 L638.7,347.38 L643.12,345.97 L647.54,346.5" fill="none" stroke="#d39c1b" stroke-width="1.7" stroke-linejoin="round"/>
<path d="M386.4,286.7 H672.4" fill="none" stroke="#777" stroke-width="1.3" stroke-linecap="square"/>
<path d="M672.4,286.7 V502" fill="none" stroke="#444" stroke-width="1.1" stroke-linecap="square"/>
<path d="M386.4,286.7 V502" fill="none" stroke="#5a5a5a" stroke-width="1.2" stroke-linecap="square"/>
<path d="M386.4,502 H672.4" fill="none" stroke="#5a5a5a" stroke-width="1.2" stroke-linecap="square"/>
<path d="M386.4,491.5h3.6 M386.4,471.02h3.6 M386.4,450.54h3.6 M386.4,430.06h3.6 M386.4,409.58h3.6 M386.4,389.1h3.6 M386.4,368.62h3.6 M386.4,348.14h3.6 M386.4,327.66h3.6 M386.4,307.18h3.6 M386.4,286.7h3.6 M386.4,481.26h2.2 M386.4,460.78h2.2 M386.4,440.3h2.2 M386.4,419.82h2.2 M386.4,399.34h2.2 M386.4,378.86h2.2 M386.4,358.38h2.2 M386.4,337.9h2.2 M386.4,317.42h2.2 M386.4,296.94h2.2 M408.3,502v-3.6 M452.3,502v-3.6 M496.3,502v-3.6 M540.3,502v-3.6 M584.3,502v-3.6 M628.3,502v-3.6 M672.3,502v-3.6 M430.3,502v-2.2 M474.3,502v-2.2 M518.3,502v-2.2 M562.3,502v-2.2 M606.3,502v-2.2 M650.3,502v-2.2" stroke="#444" stroke-width="1.1" fill="none"/>
<text x="381.3" y="495.6" text-anchor="end" font-family="'Liberation Serif', serif" font-weight="bold" font-size="12.7" textLength="15" lengthAdjust="spacingAndGlyphs">0.0</text>
<text x="381.3" y="475.12" text-anchor="end" font-family="'Liberation Serif', serif" font-weight="bold" font-size="12.7" textLength="15" lengthAdjust="spacingAndGlyphs">0.1</text>
<text x="381.3" y="454.64" text-anchor="end" font-family="'Liberation Serif', serif" font-weight="bold" font-size="12.7" textLength="15" lengthAdjust="spacingAndGlyphs">0.2</text>
<text x="381.3" y="434.16" text-anchor="end" font-family="'Liberation Serif', serif" font-weight="bold" font-size="12.7" textLength="15" lengthAdjust="spacingAndGlyphs">0.3</text>
<text x="381.3" y="413.68" text-anchor="end" font-family="'Liberation Serif', serif" font-weight="bold" font-size="12.7" textLength="15" lengthAdjust="spacingAndGlyphs">0.4</text>
<text x="381.3" y="393.2" text-anchor="end" font-family="'Liberation Serif', serif" font-weight="bold" font-size="12.7" textLength="15" lengthAdjust="spacingAndGlyphs">0.5</text>
<text x="381.3" y="372.72" text-anchor="end" font-family="'Liberation Serif', serif" font-weight="bold" font-size="12.7" textLength="15" lengthAdjust="spacingAndGlyphs">0.6</text>
<text x="381.3" y="352.24" text-anchor="end" font-family="'Liberation Serif', serif" font-weight="bold" font-size="12.7" textLength="15" lengthAdjust="spacingAndGlyphs">0.7</text>
<text x="381.3" y="331.76" text-anchor="end" font-family="'Liberation Serif', serif" font-weight="bold" font-size="12.7" textLength="15" lengthAdjust="spacingAndGlyphs">0.8</text>
<text x="381.3" y="311.28" text-anchor="end" font-family="'Liberation Serif', serif" font-weight="bold" font-size="12.7" textLength="15" lengthAdjust="spacingAndGlyphs">0.9</text>
<text x="381.3" y="290.8" text-anchor="end" font-family="'Liberation Serif', serif" font-weight="bold" font-size="12.7" textLength="15" lengthAdjust="spacingAndGlyphs">1.0</text>
<text x="408.3" y="516" text-anchor="middle" font-family="'Liberation Serif', serif" font-weight="bold" font-size="12.7" textLength="6" lengthAdjust="spacingAndGlyphs">0</text>
<text x="452.3" y="516" text-anchor="middle" font-family="'Liberation Serif', serif" font-weight="bold" font-size="12.7" textLength="18" lengthAdjust="spacingAndGlyphs">500</text>
<text x="496.3" y="516" text-anchor="middle" font-family="'Liberation Serif', serif" font-weight="bold" font-size="12.7" textLength="24" lengthAdjust="spacingAndGlyphs">1000</text>
<text x="540.3" y="516" text-anchor="middle" font-family="'Liberation Serif', serif" font-weight="bold" font-size="12.7" textLength="24" lengthAdjust="spacingAndGlyphs">1500</text>
<text x="584.3" y="516" text-anchor="middle" font-family="'Liberation Serif', serif" font-weight="bold" font-size="12.7" textLength="24" lengthAdjust="spacingAndGlyphs">2000</text>
<text x="628.3" y="516" text-anchor="middle" font-family="'Liberation Serif', serif" font-weight="bold" font-size="12.7" textLength="24" lengthAdjust="spacingAndGlyphs">2500</text>
<text x="672.3" y="516" text-anchor="middle" font-family="'Liberation Serif', serif" font-weight="bold" font-size="12.7" textLength="24" lengthAdjust="spacingAndGlyphs">3000</text>
<text transform="translate(363.4,390.5) rotate(-90)" x="0" y="0" text-anchor="middle" font-family="'Liberation Serif', serif" font-weight="bold" font-size="17" textLength="71.0" lengthAdjust="spacingAndGlyphs">DAMAGC</text>
<text x="462.3" y="529.1" font-family="'Liberation Serif', serif" font-weight="bold" font-size="13.3" textLength="112.6" lengthAdjust="spacingAndGlyphs">Horizontal position</text>
<text x="574.9" y="529.1" font-family="'Liberation Serif', serif" font-weight="bold" font-size="15.1" textLength="31.4" lengthAdjust="spacingAndGlyphs">/mm</text>
<text x="497.6" y="570.4" font-family="'Liberation Serif', serif" font-size="17.5" textLength="20.4" lengthAdjust="spacingAndGlyphs">(d)</text>
<text x="523.3" y="570.4" font-family="'Liberation Serif', serif" font-size="17.5" textLength="23.33" lengthAdjust="spacingAndGlyphs">4-4</text>
<path d="M399.2,298.1 h25.0" stroke="#444444" stroke-width="1.8"/>
<text x="427.7" y="302.06" font-family="'Liberation Serif', serif" font-weight="bold" font-size="11.77" textLength="91.0" lengthAdjust="spacingAndGlyphs">Overall warming 10</text>
<circle cx="521.17" cy="294.78" r="1.39" fill="none" stroke="#111" stroke-width="0.96"/>
<text x="522.94" y="302.06" font-family="'Liberation Sans', sans-serif" font-size="11.45" textLength="7.6" lengthAdjust="spacingAndGlyphs">C</text>
<path d="M533.9,298.1 h25.0" stroke="#ee3636" stroke-width="1.8"/>
<text x="562.4" y="302.06" font-family="'Liberation Serif', serif" font-weight="bold" font-size="11.77" textLength="91.0" lengthAdjust="spacingAndGlyphs">Overall warming 20</text>
<circle cx="655.87" cy="294.78" r="1.39" fill="none" stroke="#111" stroke-width="0.96"/>
<text x="657.64" y="302.06" font-family="'Liberation Sans', sans-serif" font-size="11.45" textLength="7.6" lengthAdjust="spacingAndGlyphs">C</text>
<path d="M399.2,311.3 h25.0" stroke="#2f78e4" stroke-width="1.8"/>
<text x="427.7" y="315.26" font-family="'Liberation Serif', serif" font-weight="bold" font-size="11.77" textLength="91.0" lengthAdjust="spacingAndGlyphs">Overall warming 30</text>
<circle cx="521.17" cy="307.98" r="1.39" fill="none" stroke="#111" stroke-width="0.96"/>
<text x="522.94" y="315.26" font-family="'Liberation Sans', sans-serif" font-size="11.45" textLength="7.6" lengthAdjust="spacingAndGlyphs">C</text>
<path d="M533.9,311.3 h25.0" stroke="#47b276" stroke-width="1.8"/>
<text x="562.4" y="315.26" font-family="'Liberation Serif', serif" font-weight="bold" font-size="11.77" textLength="91.0" lengthAdjust="spacingAndGlyphs">Overall warming 40</text>
<circle cx="655.87" cy="307.98" r="1.39" fill="none" stroke="#111" stroke-width="0.96"/>
<text x="657.64" y="315.26" font-family="'Liberation Sans', sans-serif" font-size="11.45" textLength="7.6" lengthAdjust="spacingAndGlyphs">C</text>
<path d="M399.2,324.6 h25.0" stroke="#b47ce6" stroke-width="1.8"/>
<text x="427.7" y="328.56" font-family="'Liberation Serif', serif" font-weight="bold" font-size="11.77" textLength="91.0" lengthAdjust="spacingAndGlyphs">Overall warming 50</text>
<circle cx="521.17" cy="321.28" r="1.39" fill="none" stroke="#111" stroke-width="0.96"/>
<text x="522.94" y="328.56" font-family="'Liberation Sans', sans-serif" font-size="11.45" textLength="7.6" lengthAdjust="spacingAndGlyphs">C</text>
<path d="M533.9,324.6 h25.0" stroke="#d39c1b" stroke-width="1.8"/>
<text x="562.4" y="328.56" font-family="'Liberation Serif', serif" font-weight="bold" font-size="11.77" textLength="91.0" lengthAdjust="spacingAndGlyphs">Overall warming 60</text>
<circle cx="655.87" cy="321.28" r="1.39" fill="none" stroke="#111" stroke-width="0.96"/>
<text x="657.64" y="328.56" font-family="'Liberation Sans', sans-serif" font-size="11.45" textLength="7.6" lengthAdjust="spacingAndGlyphs">C</text>
<path d="M230.94,823.5 L236.52,817.38 L241.9,811.8 L246.48,811.01 L251.86,814.41 L256.84,814 L261.83,812.02 L266.81,810.62 L272.79,809.82 L280.76,809.41 L290.73,809.03 L300.69,808.83 L312.64,808.62 L317.98,808.83 L325.94,809.03 L331.92,810.43 L335.91,813.01 L339.89,815.4 L343.87,817.79 L348.86,818.98 L352.85,819.39 L356.83,821.37 L360.81,822.16 L365.8,822.16 L370.78,820.98 L374.76,819.39 L379.75,818.4 L383.73,816.39 L387.72,813.4 L391.7,810.43 L395.69,809.03 L403.66,808.83 L419.99,808.83 L424.93,809.41 L434.89,809.82 L444.86,810.21 L454.81,811.01 L461.79,812.21 L465.78,813.01 L469.76,814.41 L474.75,814.41 L479.73,811.01 L484.71,811.8 L488.7,815.4 L492.68,819.39 L496.27,823.5" fill="none" stroke="#444444" stroke-width="1.7" stroke-linejoin="round"/>
<path d="M230.94,775.14 L236.52,770.55 L240.9,755.61 L246.89,740.68 L249.87,729.71 L252.86,715.76 L256.45,702.21 L260.84,695.44 L265.82,689.87 L270.79,686.46 L276.78,684.87 L282.75,683.88 L290.73,683.68 L298.69,683.88 L306.67,684.87 L312.64,686.27 L315.97,687.45 L321.96,689.87 L327.93,693.85 L332.91,699.82 L337.9,706.8 L341.88,715.76 L343.87,722.74 L345.87,737.68 L347.86,747.64 L351.85,759.59 L355.83,771.57 L358.82,779.54 L361.22,787.89 L363.8,787.89 L366.2,787.89 L368.79,779.54 L371.78,769.56 L374.76,759.59 L378.75,745.65 L380.75,733.7 L382.74,719.74 L385.73,709.79 L389.71,702.81 L393.69,697.84 L399.68,692.26 L405.65,688.85 L412.63,686.87 L419.99,685.47 L424.93,684.07 L432.9,683.88 L440.87,684.07 L448.84,685.06 L454.81,687.26 L460.8,690.45 L465.78,695.44 L469.76,701.82 L472.76,709.79 L474.75,717.76 L476.74,727.71 L479.73,741.67 L483.71,754.62 L487.7,766.57 L491.69,775.55 L496.27,781.52" fill="none" stroke="#ee3636" stroke-width="1.7" stroke-linejoin="round"/>
<path d="M230.94,716.17 L236.52,716.17 L241.5,712.18 L246.89,707.79 L249.87,699.82 L252.86,689.87 L256.84,681.49 L260.84,675.91 L265.82,671.51 L270.79,669.53 L276.78,668.54 L284.74,668.13 L292.72,668.13 L300.69,668.33 L308.66,668.93 L315.97,669.92 L321.96,671.51 L327.93,673.9 L332.91,677.89 L337.9,683.88 L341.88,690.86 L344.87,700.81 L346.86,713.78 L349.86,720.73 L353.84,726.72 L358.82,730.1 L363.41,731.31 L367.79,729.71 L371.78,726.72 L375.76,721.75 L378.75,713.78 L380.75,705.81 L382.74,697.84 L385.73,688.85 L389.71,681.87 L393.69,676.9 L399.68,672.91 L405.65,670.72 L412.63,669.34 L419.99,668.54 L420.94,668.54 L428.91,668.13 L436.88,668.13 L444.86,668.33 L452.82,669.34 L458.81,670.93 L463.79,673.9 L467.77,677.89 L470.77,682.89 L473.75,689.87 L476.74,698.83 L479.73,708.78 L483.71,713.78 L487.7,717.76 L491.69,719.35 L496.27,719.74" fill="none" stroke="#2f78e4" stroke-width="1.7" stroke-linejoin="round"/>
<path d="M230.94,705.81 L236.52,706.8 L241.5,705.81 L244.89,698.83 L247.88,689.87 L250.87,681.87 L253.86,674.92 L257.85,669.53 L262.83,665.55 L268.8,663.54 L274.79,662.55 L282.75,662.36 L290.73,662.36 L298.69,662.55 L306.67,662.96 L314.64,663.54 L315.97,663.54 L321.96,664.75 L327.93,666.73 L332.91,669.92 L337.9,674.31 L341.88,679.89 L344.87,687.86 L347.86,697.84 L351.85,704.79 L355.83,709.79 L359.82,713.78 L363.41,715.37 L366.8,713.37 L370.78,709.79 L375.76,704.79 L379.75,699.82 L382.74,689.87 L385.73,681.87 L389.71,674.92 L393.69,670.33 L399.68,666.34 L405.65,664.34 L413.63,663.16 L419.99,662.75 L420.94,662.96 L428.91,662.75 L436.88,662.75 L444.86,662.75 L452.82,663.16 L458.81,664.34 L463.79,666.73 L467.77,670.33 L470.77,675.5 L473.75,682.89 L476.74,690.86 L479.73,698.83 L482.71,704.79 L485.7,708.2 L489.69,709.19 L493.68,709.19 L496.27,708.99" fill="none" stroke="#47b276" stroke-width="1.7" stroke-linejoin="round"/>
<path d="M230.94,699.82 L236.52,701.41 L241.5,702.21 L244.89,694.84 L247.88,686.87 L250.87,677.89 L253.86,671.51 L257.85,666.34 L262.83,662.96 L268.8,661.15 L274.79,660.57 L282.75,660.36 L290.73,660.36 L298.69,660.57 L306.67,660.96 L314.64,661.56 L315.97,661.56 L321.96,662.55 L327.93,664.34 L332.91,667.34 L337.9,671.51 L341.88,676.9 L344.87,684.87 L347.86,693.85 L351.85,703.8 L355.83,710.78 L359.82,714.16 L363.41,714.77 L366.8,713.37 L370.78,709.38 L373.77,704.79 L377.75,696.82 L380.75,687.86 L383.73,679.48 L387.72,672.31 L391.7,667.94 L397.68,664.34 L403.66,662.55 L411.64,661.56 L419.99,660.96 L420.94,661.15 L428.91,660.96 L436.88,660.96 L444.86,661.15 L452.82,661.37 L458.81,662.36 L463.79,664.34 L467.77,667.53 L470.77,671.92 L473.75,678.9 L476.74,686.87 L479.73,694.84 L482.71,700.81 L485.7,703.41 L489.69,704.21 L493.68,703.8 L496.27,703.41" fill="none" stroke="#b47ce6" stroke-width="1.7" stroke-linejoin="round"/>
<path d="M230.94,695.83 L236.52,697.84 L241.5,699.43 L244.89,691.85 L247.88,683.88 L250.87,674.92 L253.86,668.93 L256.84,664.94 L260.84,660.96 L265.82,658.98 L270.79,657.97 L278.77,657.58 L286.74,657.58 L294.71,657.58 L302.68,657.97 L310.65,658.37 L315.97,658.98 L321.96,659.97 L327.93,661.95 L332.91,664.94 L337.9,668.93 L341.88,674.92 L344.87,682.89 L347.86,691.85 L351.85,701.82 L355.83,709.79 L359.82,713.78 L363.41,714.77 L366.8,712.76 L370.78,708.78 L373.77,703.8 L377.75,694.84 L380.75,685.86 L383.73,676.9 L387.72,669.92 L391.7,665.55 L397.68,661.95 L403.66,660.36 L411.64,659.17 L419.99,658.57 L420.94,658.18 L428.91,657.97 L436.88,657.97 L444.86,657.97 L452.82,658.37 L458.81,658.98 L463.79,660.36 L467.77,662.96 L470.77,666.95 L473.75,673.52 L476.74,681.87 L479.73,689.87 L482.71,696.82 L484.71,700.81 L488.7,700.23 L492.68,699.43 L496.27,698.42" fill="none" stroke="#d39c1b" stroke-width="1.7" stroke-linejoin="round"/>
<path d="M205.8,608.1 H516.8" fill="none" stroke="#777" stroke-width="1.3" stroke-linecap="square"/>
<path d="M516.8,608.1 V834.3" fill="none" stroke="#444" stroke-width="1.1" stroke-linecap="square"/>
<path d="M205.8,608.1 V834.3" fill="none" stroke="#3a3a3a" stroke-width="1.0" stroke-linecap="square"/>
<path d="M205.8,834.3 H516.8" fill="none" stroke="#3a3a3a" stroke-width="1.1" stroke-linecap="square"/>
<path d="M205.8,823.5h3.6 M205.8,801.96h3.6 M205.8,780.42h3.6 M205.8,758.88h3.6 M205.8,737.34h3.6 M205.8,715.8h3.6 M205.8,694.26h3.6 M205.8,672.72h3.6 M205.8,651.18h3.6 M205.8,629.64h3.6 M205.8,608.1h3.6 M205.8,812.73h2.2 M205.8,791.19h2.2 M205.8,769.65h2.2 M205.8,748.11h2.2 M205.8,726.57h2.2 M205.8,705.03h2.2 M205.8,683.49h2.2 M205.8,661.95h2.2 M205.8,640.41h2.2 M205.8,618.87h2.2 M231.1,834.3v-3.6 M282.96,834.3v-3.6 M334.82,834.3v-3.6 M386.68,834.3v-3.6 M438.54,834.3v-3.6 M490.4,834.3v-3.6 M257.03,834.3v-2.2 M308.89,834.3v-2.2 M360.75,834.3v-2.2 M412.61,834.3v-2.2 M464.47,834.3v-2.2" stroke="#444" stroke-width="1.1" fill="none"/>
<text x="200.2" y="827.6" text-anchor="end" font-family="'Liberation Serif', serif" font-weight="bold" font-size="12.7" textLength="15" lengthAdjust="spacingAndGlyphs">0.0</text>
<text x="200.2" y="806.06" text-anchor="end" font-family="'Liberation Serif', serif" font-weight="bold" font-size="12.7" textLength="15" lengthAdjust="spacingAndGlyphs">0.1</text>
<text x="200.2" y="784.52" text-anchor="end" font-family="'Liberation Serif', serif" font-weight="bold" font-size="12.7" textLength="15" lengthAdjust="spacingAndGlyphs">0.2</text>
<text x="200.2" y="762.98" text-anchor="end" font-family="'Liberation Serif', serif" font-weight="bold" font-size="12.7" textLength="15" lengthAdjust="spacingAndGlyphs">0.3</text>
<text x="200.2" y="741.44" text-anchor="end" font-family="'Liberation Serif', serif" font-weight="bold" font-size="12.7" textLength="15" lengthAdjust="spacingAndGlyphs">0.4</text>
<text x="200.2" y="719.9" text-anchor="end" font-family="'Liberation Serif', serif" font-weight="bold" font-size="12.7" textLength="15" lengthAdjust="spacingAndGlyphs">0.5</text>
<text x="200.2" y="698.36" text-anchor="end" font-family="'Liberation Serif', serif" font-weight="bold" font-size="12.7" textLength="15" lengthAdjust="spacingAndGlyphs">0.6</text>
<text x="200.2" y="676.82" text-anchor="end" font-family="'Liberation Serif', serif" font-weight="bold" font-size="12.7" textLength="15" lengthAdjust="spacingAndGlyphs">0.7</text>
<text x="200.2" y="655.28" text-anchor="end" font-family="'Liberation Serif', serif" font-weight="bold" font-size="12.7" textLength="15" lengthAdjust="spacingAndGlyphs">0.8</text>
<text x="200.2" y="633.74" text-anchor="end" font-family="'Liberation Serif', serif" font-weight="bold" font-size="12.7" textLength="15" lengthAdjust="spacingAndGlyphs">0.9</text>
<text x="200.2" y="612.2" text-anchor="end" font-family="'Liberation Serif', serif" font-weight="bold" font-size="12.7" textLength="15" lengthAdjust="spacingAndGlyphs">1.0</text>
<text x="231.1" y="849.9" text-anchor="middle" font-family="'Liberation Serif', serif" font-weight="bold" font-size="12.7" textLength="6" lengthAdjust="spacingAndGlyphs">0</text>
<text x="282.96" y="849.9" text-anchor="middle" font-family="'Liberation Serif', serif" font-weight="bold" font-size="12.7" textLength="18" lengthAdjust="spacingAndGlyphs">500</text>
<text x="334.82" y="849.9" text-anchor="middle" font-family="'Liberation Serif', serif" font-weight="bold" font-size="12.7" textLength="24" lengthAdjust="spacingAndGlyphs">1000</text>
<text x="386.68" y="849.9" text-anchor="middle" font-family="'Liberation Serif', serif" font-weight="bold" font-size="12.7" textLength="24" lengthAdjust="spacingAndGlyphs">1500</text>
<text x="438.54" y="849.9" text-anchor="middle" font-family="'Liberation Serif', serif" font-weight="bold" font-size="12.7" textLength="24" lengthAdjust="spacingAndGlyphs">2000</text>
<text x="490.4" y="849.9" text-anchor="middle" font-family="'Liberation Serif', serif" font-weight="bold" font-size="12.7" textLength="24" lengthAdjust="spacingAndGlyphs">2500</text>
<text transform="translate(176.2,715.7) rotate(-90)" x="0" y="0" text-anchor="middle" font-family="'Liberation Serif', serif" font-weight="bold" font-size="17.2" textLength="75.4" lengthAdjust="spacingAndGlyphs">DAMAGC</text>
<text x="287.3" y="865" font-family="'Liberation Serif', serif" font-weight="bold" font-size="14.4" textLength="117.8" lengthAdjust="spacingAndGlyphs">Horizontal position</text>
<text x="405.1" y="865" font-family="'Liberation Serif', serif" font-weight="bold" font-size="16.0" textLength="32.8" lengthAdjust="spacingAndGlyphs">/mm</text>
<text x="325" y="900.5" font-family="'Liberation Serif', serif" font-size="17.5" textLength="19.43" lengthAdjust="spacingAndGlyphs">(e)</text>
<text x="350" y="900.5" font-family="'Liberation Serif', serif" font-size="17.5" textLength="23.33" lengthAdjust="spacingAndGlyphs">5-5</text>
<path d="M234.7,618.5 h25.5" stroke="#444444" stroke-width="1.8"/>
<text x="264.2" y="622.64" font-family="'Liberation Serif', serif" font-weight="bold" font-size="12.32" textLength="95.0" lengthAdjust="spacingAndGlyphs">Overall warming 10</text>
<circle cx="361.76" cy="615.03" r="1.46" fill="none" stroke="#111" stroke-width="1.01"/>
<text x="363.61" y="622.64" font-family="'Liberation Sans', sans-serif" font-size="11.98" textLength="7.96" lengthAdjust="spacingAndGlyphs">C</text>
<path d="M375.4,618.5 h25.5" stroke="#ee3636" stroke-width="1.8"/>
<text x="404.9" y="622.64" font-family="'Liberation Serif', serif" font-weight="bold" font-size="12.32" textLength="95.0" lengthAdjust="spacingAndGlyphs">Overall warming 20</text>
<circle cx="502.46" cy="615.03" r="1.46" fill="none" stroke="#111" stroke-width="1.01"/>
<text x="504.31" y="622.64" font-family="'Liberation Sans', sans-serif" font-size="11.98" textLength="7.96" lengthAdjust="spacingAndGlyphs">C</text>
<path d="M234.7,632.5 h25.5" stroke="#2f78e4" stroke-width="1.8"/>
<text x="264.2" y="636.64" font-family="'Liberation Serif', serif" font-weight="bold" font-size="12.32" textLength="95.0" lengthAdjust="spacingAndGlyphs">Overall warming 30</text>
<circle cx="361.76" cy="629.03" r="1.46" fill="none" stroke="#111" stroke-width="1.01"/>
<text x="363.61" y="636.64" font-family="'Liberation Sans', sans-serif" font-size="11.98" textLength="7.96" lengthAdjust="spacingAndGlyphs">C</text>
<path d="M375.4,632.5 h25.5" stroke="#47b276" stroke-width="1.8"/>
<text x="404.9" y="636.64" font-family="'Liberation Serif', serif" font-weight="bold" font-size="12.32" textLength="95.0" lengthAdjust="spacingAndGlyphs">Overall warming 40</text>
<circle cx="502.46" cy="629.03" r="1.46" fill="none" stroke="#111" stroke-width="1.01"/>
<text x="504.31" y="636.64" font-family="'Liberation Sans', sans-serif" font-size="11.98" textLength="7.96" lengthAdjust="spacingAndGlyphs">C</text>
<path d="M234.7,646.5 h25.5" stroke="#b47ce6" stroke-width="1.8"/>
<text x="264.2" y="650.64" font-family="'Liberation Serif', serif" font-weight="bold" font-size="12.32" textLength="95.0" lengthAdjust="spacingAndGlyphs">Overall warming 50</text>
<circle cx="361.76" cy="643.03" r="1.46" fill="none" stroke="#111" stroke-width="1.01"/>
<text x="363.61" y="650.64" font-family="'Liberation Sans', sans-serif" font-size="11.98" textLength="7.96" lengthAdjust="spacingAndGlyphs">C</text>
<path d="M375.4,646.5 h25.5" stroke="#d39c1b" stroke-width="1.8"/>
<text x="404.9" y="650.64" font-family="'Liberation Serif', serif" font-weight="bold" font-size="12.32" textLength="95.0" lengthAdjust="spacingAndGlyphs">Overall warming 60</text>
<circle cx="502.46" cy="643.03" r="1.46" fill="none" stroke="#111" stroke-width="1.01"/>
<text x="504.31" y="650.64" font-family="'Liberation Sans', sans-serif" font-size="11.98" textLength="7.96" lengthAdjust="spacingAndGlyphs">C</text>
</svg></body></html>
